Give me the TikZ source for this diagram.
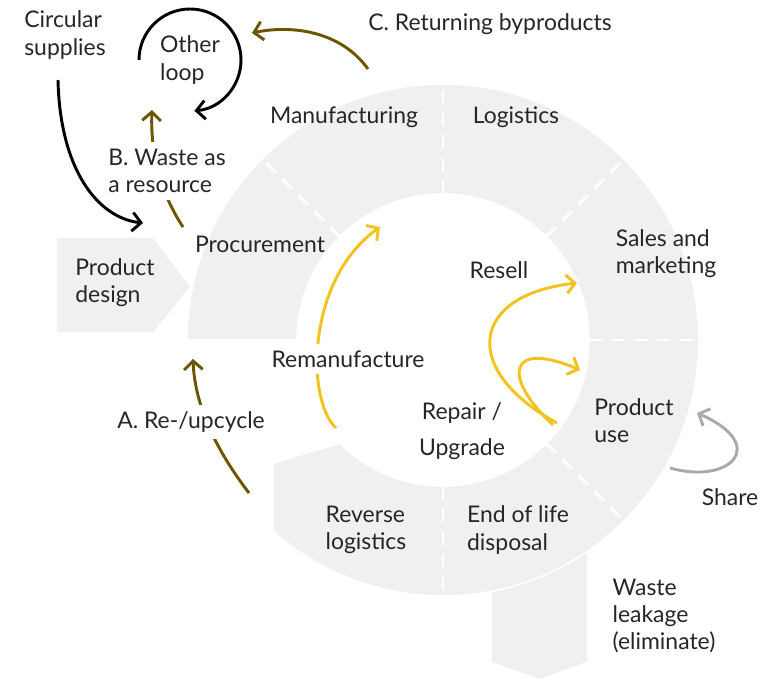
\documentclass[tikz,border=0pt]{standalone}
\usepackage{fontspec}
\setmainfont{Lato}
\usetikzlibrary{arrows.meta}

\definecolor{ringgrey}{HTML}{F0F0F0}
\definecolor{textgrey}{HTML}{262626}
\definecolor{loopbrown}{HTML}{6B5600}
\definecolor{loopyellow}{HTML}{F4C21F}
\definecolor{sharegrey}{HTML}{AAAAAA}

\begin{document}
\begin{tikzpicture}[
  x=0.75pt, y=0.75pt,
  lbl/.style={font=\fontsize{17.2}{20.4}\selectfont, text=textgrey, align=left, inner sep=0pt},
  gaplbl/.style={lbl, fill=white, inner xsep=2pt, inner ysep=5pt},
  flow/.style={line width=2.2pt, -{Straight Barb[length=6.5pt, width=14pt]}},
  divider/.style={white, line width=2.2pt, dash pattern=on 10pt off 7pt}
]
\useasboundingbox (-443,-341) rectangle (328,340);

% Shapes
\fill[ringgrey] (49,-200) -- (144,-200) -- (144,-322) -- (96,-339) -- (49,-322) -- cycle;
\fill[ringgrey] (-386,102) -- (-290,102) -- (-253,53) -- (-290,8) -- (-386,8) -- cycle;

% Ring
\fill[ringgrey, draw=white, line width=1.2pt] (180:256) arc[start angle=180, end angle=-131.6, radius=256]
  -- (-170,-123) -- (-135:146) arc[start angle=-135, end angle=180, radius=146] -- cycle;
\foreach \a in {135,90,45,0,-45,-90}
  \draw[divider] (\a:146) -- (\a:256);

% Arrow ends
\coordinate (supA) at (-385,260);
\coordinate (supB) at (-300,117);
\coordinate (otherA) at (-304,280);
\coordinate (wasteA) at (-260,113);
\coordinate (wasteB) at (-291,230);
\coordinate (byprodA) at (-75,271);
\coordinate (byprodB) at (-191,307);
\coordinate (recycA) at (-194,-153);
\coordinate (recycB) at (-250,-19);
\coordinate (remanA) at (-107,-88);
\coordinate (remanB) at (-63,113);
\coordinate (resellA) at (114,-83);
\coordinate (resellB) at (134,57);
\coordinate (repairA) at (110,-85);
\coordinate (repairB) at (137,-30);
\coordinate (shareA) at (227,-128);
\coordinate (shareB) at (254,-73);

% Arrows
\draw[flow, black] (supA) .. controls (-383,170) and (-345,122) .. (supB);
\draw[flow, black] (otherA) arc[start angle=180, end angle=-85, radius=51];
\draw[flow, loopbrown] (wasteA) .. controls (-278,140) and (-293,180) .. (wasteB);
\draw[flow, loopbrown] (byprodA) .. controls (-103,310) and (-153,315) .. (byprodB);
\draw[flow, loopbrown] (recycA) .. controls (-223,-115) and (-248,-70) .. (recycB);
\draw[flow, loopyellow] (remanA) .. controls (-137,-60) and (-137,60) .. (remanB);
\draw[flow, loopyellow] (resellA) .. controls (17,-30) and (27,45) .. (resellB);
\draw[flow, loopyellow] (repairA) .. controls (57,-35) and (67,0) .. (repairB);
\draw[flow, sharegrey] (shareA) .. controls (287,-145) and (327,-105) .. (shareB);

% Labels
\node[lbl] (circ) at (-378,305) {Circular\\supplies};
\node[lbl] (other) at (-253,280) {Other\\loop};
\node[gaplbl] (waste) at (-276,169) {B. Waste as\\a resource};
\node[lbl] (byprod) at (47,316) {C. Returning byproducts};
\node[lbl] (manuf) at (-99,223) {Manufacturing};
\node[lbl] (logist) at (73,223) {Logistics};
\node[lbl] (sales) at (223,86) {Sales and\\marketing};
\node[lbl] (procure) at (-183,96) {Procurement};
\node[lbl] (design) at (-328,57) {Product\\design};
\node[lbl] (resell) at (56,70) {Resell};
\node[gaplbl] (reman) at (-95,-19) {Remanufacture};
\node[lbl, align=center] (repair) at (19,-91) {Repair /\\[7pt]Upgrade};
\node[lbl] (use) at (191,-81) {Product\\use};
\node[gaplbl] (recyc) at (-252,-82) {A. Re-/upcycle};
\node[lbl] (share) at (287,-157) {Share};
\node[lbl] (reverse) at (-77,-190) {Reverse\\logistics};
\node[lbl] (eol) at (75,-190) {End of life\\disposal};
\node[lbl] (leak) at (221,-276) {Waste\\leakage\\(eliminate)};

\end{tikzpicture}
\end{document}
